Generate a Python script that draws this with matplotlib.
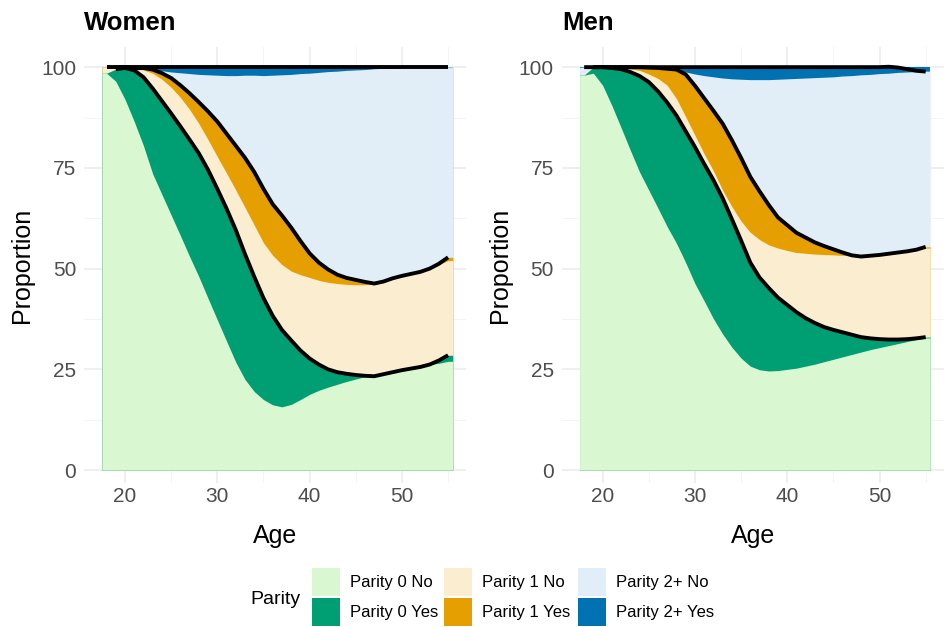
import numpy as np
import matplotlib
matplotlib.use("Agg")
import matplotlib.pyplot as plt
from matplotlib.patches import Rectangle

ages = list(range(18, 56))
categories = ["Parity 0 No", "Parity 0 Yes", "Parity 1 No", "Parity 1 Yes", "Parity 2+ No", "Parity 2+ Yes"]
colors = ["#D9F8D2", "#009E73", "#FBEDD0", "#E69F00", "#E1EEF8", "#0072B2"]
x_ticks = [20, 30, 40, 50]
y_ticks = [0, 25, 50, 75, 100]

# ---- Women (percent shares by age 18..55) ----
women_p0_no = [98.5, 96.5, 92, 86.5, 80.5, 73.5, 68.4, 63.3, 58.2, 53, 48, 42.6, 37.3, 32, 26.8, 22.5,
               19.5, 17.5, 16.2, 15.7, 16.3, 17.5, 18.8, 19.8, 20.6, 21.3, 22, 22.6, 23.2, 23.3, 23.8,
               24.3, 24.8, 25.2, 25.6, 26.2, 26.5, 27]
women_p0_yes = [0, 3.0, 7.8, 12.7, 17.0, 21.2, 23.2, 25.2, 27.1, 29, 30.6, 31.9, 32.5, 32.9, 32.8, 31.1,
                28.5, 25.2, 22.1, 19.1, 15.9, 12.2, 8.9, 6.4, 4.4, 3.0, 1.9, 1.0, 0.2, 0, 0,
                0, 0, 0, 0, 0, 0.7, 1.5]
women_p1_no = [1.5, 0.5, 0.2, 0.5, 1.8, 3.8, 5.4, 6.5, 7.2, 7.5, 7.4, 7.5, 8.0, 8.8, 9.9, 11.6,
               12.8, 13.7, 15.0, 16.2, 17.2, 18.8, 20.1, 20.9, 21.6, 22, 22.2, 22.4, 22.6, 23, 23,
               23.3, 23.4, 23.5, 23.6, 23.8, 23.8, 23.5]
women_p1_yes = [0, 0, 0, 0, 0.5, 0.9, 1.5, 2.3, 3.0, 4.0, 5.3, 7.0, 8.7, 9.8, 11, 12.3,
                13.2, 13.4, 12.7, 12.2, 10.8, 8.4, 6.0, 4.4, 3.2, 2.2, 1.6, 1.2, 0.7, 0, 0,
                0, 0, 0, 0, 0, 0.2, 0.8]
women_p2_no = [0, 0, 0, 0, 0, 0, 0.6, 1.5, 3.1, 4.9, 6.9, 9.1, 11.5, 14.4, 17.4, 20.5,
               24, 28.1, 32, 34.9, 38, 41.5, 44.7, 47.2, 49.1, 50.5, 51.5, 52.1, 52.7, 53.3, 52.9,
               52.2, 51.7, 51.2, 50.7, 49.9, 48.7, 47.1]
women_p2_yes = [0, 0, 0, 0.3, 0.2, 0.6, 0.9, 1.2, 1.4, 1.6, 1.8, 1.9, 2.0, 2.1, 2.1, 2.2,
                2.2, 2.1, 2.0, 1.9, 1.8, 1.6, 1.5, 1.3, 1.1, 1.0, 0.8, 0.7, 0.6, 0.4, 0.3,
                0.2, 0.1, 0.1, 0.1, 0.1, 0.1, 0.1]
women_total_line = [100] * 38

# ---- Men ----
men_p0_no = [98, 98.5, 95.5, 90.5, 85, 79.4, 74, 69.5, 65, 60.4, 56.3, 51.5, 46.3, 42, 37.6, 33.8,
             30.5, 27.8, 25.8, 24.9, 24.6, 24.7, 25, 25.3, 25.8, 26.3, 26.9, 27.5, 28.1, 28.7, 29.3,
             29.9, 30.4, 30.9, 31.4, 31.9, 32.4, 32.8]
men_p0_yes = [0, 1.5, 4.5, 9.3, 14.5, 19.4, 23.8, 26.8, 29, 30.8, 31.7, 32.6, 33.9, 34, 34.4, 33.7,
              31.8, 29.2, 25.7, 22.9, 20.6, 18.1, 16, 13.9, 11.9, 10.2, 8.6, 7.3, 6.1, 4.9, 3.7,
              2.8, 2.1, 1.5, 1.0, 0.6, 0.3, 0.2]
men_p1_no = [0, 0, 0, 0.2, 0.4, 0.8, 1.4, 2.0, 3.2, 4.3, 4.2, 3.6, 2.9, 2.5, 2.3, 2.0,
             3.1, 4.8, 7.5, 9.4, 10.7, 12.3, 13.5, 14.8, 16.1, 17.1, 18, 18.6, 19.1, 19.6, 20,
             20.5, 20.9, 21.3, 21.6, 21.8, 22, 22.1]
men_p1_yes = [0, 0, 0, 0, 0.1, 0.4, 0.8, 1.6, 2.6, 4.1, 7.2, 10.5, 12.3, 13.8, 14.9, 16.5,
              16.5, 15.7, 13.8, 12, 9.9, 7.6, 6.3, 4.9, 3.9, 2.9, 2.1, 1.4, 0.7, 0.1, 0,
              0, 0, 0, 0, 0, 0, 0.3]
men_p2_no = [2, 0, 0, 0, 0, 0, 0, 0, 0, 0, 0, 0.6, 2.9, 5.6, 8.4, 11.3,
             15.2, 19.5, 24.1, 27.7, 31.1, 34.3, 36.3, 38.3, 39.6, 40.9, 41.9, 42.8, 43.8, 44.6, 45.1,
             45, 45, 44.8, 44.7, 44.5, 44.2, 43.6]
men_p2_yes = [0, 0, 0, 0, 0, 0, 0, 0.1, 0.2, 0.4, 0.6, 1.2, 1.7, 2.1, 2.4, 2.7,
              2.9, 3.0, 3.1, 3.1, 3.1, 3.0, 2.9, 2.8, 2.7, 2.6, 2.5, 2.4, 2.2, 2.1, 1.9,
              1.8, 1.6, 1.5, 1.3, 1.2, 1.1, 1.0]
men_total_line = [100] * 33 + [100.1, 99.9, 99.5, 99.1, 98.9]

panels = [
    ("Women", [women_p0_no, women_p0_yes, women_p1_no, women_p1_yes, women_p2_no, women_p2_yes], women_total_line),
    ("Men", [men_p0_no, men_p0_yes, men_p1_no, men_p1_yes, men_p2_no, men_p2_yes], men_total_line),
]

FONT = "Liberation Sans"
plt.rcParams["font.family"] = [FONT, "DejaVu Sans"]

W, H = 944, 627
fig = plt.figure(figsize=(W / 100, H / 100), dpi=100)

def fx(px):
    return px / W

def fy(py):
    return 1 - py / H

px_left = [84.4, 562.0]
ax_w = 382.0
ax_top, ax_bot = 47.0, 483.0
xlim = (15.6, 15.6 + ax_w / 9.23)
ylim = (-3.2, 105)

x = np.array(ages, dtype=float)
half = 0.5
x_ext = np.concatenate([[x[0] - half], x, [x[-1] + half]])

for (title, series, total_line), pl in zip(panels, px_left):
    ax = fig.add_axes([fx(pl), fy(ax_bot), ax_w / W, (ax_bot - ax_top) / H])
    arr = np.array(series, dtype=float)
    cum = np.cumsum(arr, axis=0)
    cum_ext = np.concatenate([cum[:, :1], cum, cum[:, -1:]], axis=1)
    for k in range(len(categories) - 1, -1, -1):
        ax.fill_between(x_ext, 0, cum_ext[k], color=colors[k], linewidth=0, zorder=2)
    # boundary lines (start once the parity-0 share falls below the top)
    ax.plot(x[1:], cum[1][1:], color="black", lw=2.8, zorder=4, solid_capstyle="butt",
            solid_joinstyle="round")
    ax.plot(x[1:], cum[3][1:], color="black", lw=2.8, zorder=4, solid_capstyle="butt",
            solid_joinstyle="round")
    ax.plot(x, total_line, color="black", lw=2.8, zorder=4, solid_capstyle="butt",
            solid_joinstyle="round")

    ax.set_xlim(*xlim)
    ax.set_ylim(*ylim)
    ax.set_xticks(x_ticks)
    ax.set_xticks([25, 35, 45, 55], minor=True)
    ax.set_yticks(y_ticks)
    ax.set_yticks([12.5, 37.5, 62.5, 87.5], minor=True)
    ax.grid(True, which="major", color="#EBEBEB", lw=1.1, zorder=0)
    ax.grid(True, which="minor", color="#F3F3F3", lw=0.6, zorder=0)
    ax.set_axisbelow(True)
    for s in ax.spines.values():
        s.set_visible(False)
    ax.tick_params(which="both", length=0, labelsize=15, labelcolor="#4D4D4D")
    ax.tick_params(axis="x", pad=3)
    ax.tick_params(axis="y", pad=6)
    ax.set_xlabel("Age", fontsize=18, color="black", va="center")
    ax.xaxis.set_label_coords(0.5, (ax_bot - 536) / (ax_bot - ax_top))
    ax.set_ylabel("Proportion", fontsize=18, color="black", va="center")
    ax.yaxis.set_label_coords((22 - 84.4) / ax_w, 0.5)
    ax.set_title(title, loc="left", fontsize=18.5, fontweight="bold", pad=12)

# legend (drawn as figure artists at ggplot-like positions)
key_x = [312, 444, 578]
row_y = [568, 598]
key = 28
for i, (lab, col) in enumerate(zip(categories, colors)):
    c, r = i // 2, i % 2
    fig.add_artist(Rectangle((fx(key_x[c]), fy(row_y[r] + key)), key / W, key / H,
                             transform=fig.transFigure, facecolor=col, edgecolor="none"))
    fig.text(fx(key_x[c] + key + 10), fy(row_y[r] + key / 2), lab, fontsize=12,
             va="center", ha="left")
fig.text(fx(250), fy(600), "Parity", fontsize=14, va="center", ha="left")

fig.savefig("out.png", dpi=100)
